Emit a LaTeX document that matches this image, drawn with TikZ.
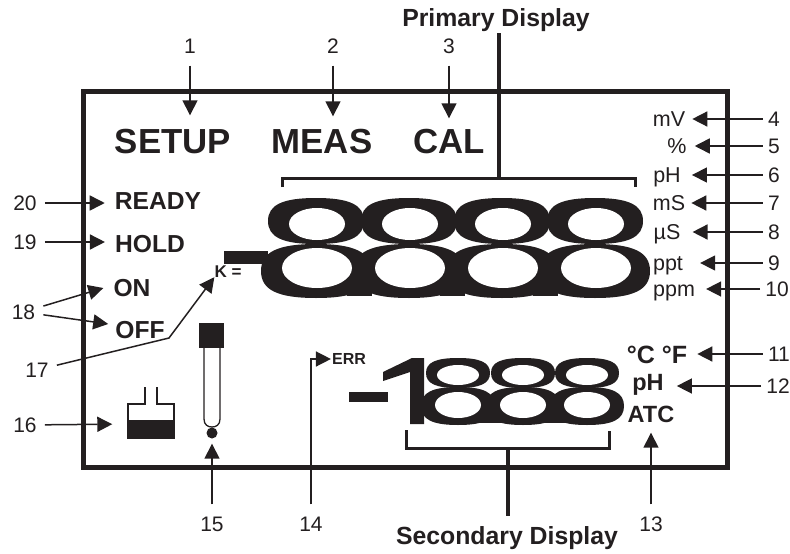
\documentclass[tikz,border=0pt]{standalone}
\usepackage{fontspec}
\setmainfont{Liberation Sans}
\usetikzlibrary{arrows.meta,calc}
\definecolor{inkBlack}{RGB}{35,31,32}
\newcommand{\lobefill}[4]{%
  \fill[inkBlack] (#1-#3,#2) .. controls +(0,-.7*#4) and +(-.7*#3,0) .. (#1,#2-#4)
    .. controls +(.7*#3,0) and +(0,-.7*#4) .. (#1+#3,#2)
    .. controls +(0,.7*#4) and +(.7*#3,0) .. (#1,#2+#4)
    .. controls +(-.7*#3,0) and +(0,.7*#4) .. (#1-#3,#2) -- cycle;}
\tikzset{
  txt/.style={inner sep=0pt, text=inkBlack, text depth=0pt},
  nr/.style={txt, font=\fontsize{21}{21}\selectfont, text height=15pt, inner xsep=5pt, inner ysep=12pt},
  nrleft/.style={nr, inner xsep=8pt, inner ysep=5pt},
  unitlab/.style={txt, font=\fontsize{21.5}{21.5}\selectfont, text height=15.4pt},
  modelab/.style={txt, font=\fontsize{24.6}{24.6}\bfseries\selectfont, text height=17.6pt, inner xsep=10pt},
  biglab/.style={txt, font=\fontsize{34.8}{34.8}\bfseries\selectfont, text height=25pt},
  sidelab/.style={txt, font=\fontsize{23.5}{23.5}\bfseries\selectfont, text height=17pt},
  headlab/.style={txt, font=\fontsize{24.8}{24.8}\bfseries\selectfont, text height=18pt},
  callout/.style={draw=inkBlack, line width=1.5pt, -{Triangle[length=15pt,width=15pt]}},
  bar/.style={draw=inkBlack, line width=4pt},
}
\begin{document}
\begin{tikzpicture}[x=1pt, y=-1pt]
  \useasboundingbox (0,0) rectangle (790,554);
  % display frame
  \draw[draw=inkBlack, line width=5pt] (83,91) rectangle (727,467);

  % primary digits
  \fill[inkBlack] (224,251) rectangle (268,264);
  \foreach \cx in {316,409,502,595} {
    \lobefill{\cx}{221}{48}{23}
    \lobefill{\cx}{271}{55}{27}
  }
  \foreach \cx in {347,440,533} {
    \fill[inkBlack] (\cx,280) rectangle +(25,16);
  }
  \foreach \cx in {317,410,503,596} {
    \fill[white] (\cx,224) ellipse [x radius=28, y radius=16];
    \fill[white] (\cx,268) ellipse [x radius=35, y radius=20];
  }

  % secondary digits
  \fill[inkBlack] (349,392) rectangle (388,402);
  \fill[inkBlack] (383,381) -- (383,372) -- (412,358) -- (424,358) -- (424,424) -- (410,424) -- (410,372) -- cycle;
  \foreach \cx in {458,523,587} {
    \lobefill{\cx}{373}{32}{15}
    \lobefill{\cx}{406}{37}{19}
  }
  \foreach \cx in {476,541} {
    \fill[inkBlack] (\cx,410) rectangle +(28,13);
  }
  \foreach \cx in {458,523,587} {
    \fill[white] (\cx,375) ellipse [x radius=21, y radius=10];
    \fill[white] (\cx,405) ellipse [x radius=23, y radius=13];
  }

  % brackets and their stems
  \node[headlab] (primary) at (496,17) {Primary Display};
  \node[headlab] (secondary) at (507,535) {Secondary Display};
  \coordinate (topjoin) at (499,178);
  \coordinate (topend) at (499,33);
  \coordinate (botjoin) at (508,448);
  \coordinate (botend) at (508,516);
  \draw[bar, line width=3pt] (282,187) -- (282,178) -- (635,178) -- (635,187);
  \draw[bar, line width=3pt] (406,430) -- (406,448) -- (609,448) -- (609,431);
  \draw[bar] (topend) -- (topjoin);
  \draw[bar] (botjoin) -- (botend);

  % labels on the display
  \node[biglab] (setup) at (173,141) {SETUP};
  \node[biglab] (meas) at (322,141) {MEAS};
  \node[biglab] (cal) at (449,141) {CAL};
  \node[modelab] (ready) at (158,201) {READY};
  \node[modelab] (hold) at (150,244) {HOLD};
  \node[modelab] (on) at (132,288) {ON};
  \node[modelab] (off) at (140,330) {OFF};
  \node[txt, font=\fontsize{17}{17}\bfseries\selectfont, text height=12pt] (kval) at (228,271) {K =};
  \node[txt, font=\fontsize{16}{16}\bfseries\selectfont, text height=11.5pt, inner xsep=1pt] (err) at (349,359) {ERR};
  \node[sidelab, font=\fontsize{25}{25}\bfseries\selectfont] (temp) at (657,355) {°C °F};
  \node[sidelab] (phb) at (648,382) {pH};
  \node[sidelab] (atc) at (651,414) {ATC};

  % bottle
  \fill[inkBlack] (128,420) rectangle (174,438);
  \draw[draw=inkBlack, line width=1.3pt] (145,387) -- (145,404) -- (128,404) -- (128,438) -- (174,438) -- (174,404) -- (157,404) -- (157,387);
  \node[inner sep=0pt, minimum size=1pt] (bottle) at (128,424) {};

  % probe
  \fill[inkBlack] (199,323) rectangle (224,348);
  \draw[draw=inkBlack, line width=1.3pt] (204,348) -- (204,419) .. controls (204,425) and (208,427) .. (212,427) .. controls (216,427) and (220,425) .. (220,419) -- (220,348);
  \fill[inkBlack] (212,433) circle (5.5);
  \node[inner sep=0pt, minimum size=1pt] (bulb) at (212,443) {};

  % numbered callouts, top
  \foreach \n/\tgt/\x/\gap in {1/setup/190/13, 2/meas/333/12, 3/cal/449/10} {
    \node[nr] (n\n) at (\x,46) {\n};
    \draw[callout, shorten >=\gap pt] (n\n) -- (n\n |- \tgt.north);
  }

  % numbered callouts, right
  \foreach \n/\tgt/\txt/\tx/\nx/\y/\gap in {4/mv/mV/669/774/119/7, 5/pc/\%/677/774/146/8, 6/ph/pH/667/774/175/11,
      7/ms/mS/669/774/203/6, 8/us/µS/667/774/232/12, 9/ppt/ppt/668/774/263/17, 10/ppm/ppm/674/777/289/11} {
    \node[unitlab] (\tgt) at (\tx,\y) {\txt};
    \node[nr] (n\n) at (\nx,\y) {\n};
    \draw[callout, shorten >=\gap pt] (n\n) -- (\tgt);
  }
  \node[nr] (n11) at (779,354) {11};
  \node[nr] (n12) at (778,386) {12};
  \draw[callout, shorten >=10pt] (n11) -- (temp.east |- n11);
  \draw[callout, shorten >=13pt] (n12) -- (phb.east |- n12);

  % numbered callouts, bottom
  \foreach \n/\x in {13/651, 14/311, 15/212} {
    \node[nr] (n\n) at (\x,524) {\n};
  }
  \draw[callout, shorten >=10pt] (n13) -- (n13 |- atc.south);
  \draw[callout] (n14.north) -- (n14.north |- err) -- (err);
  \draw[callout] (n15) -- (bulb);

  % numbered callouts, left
  \foreach \n/\x/\y in {16/25/425, 19/25/242, 20/25/203, 17/37/370, 18/23.5/312} {
    \node[nrleft] (n\n) at (\x,\y) {\n};
  }
  \draw[callout] (n20) -- (n20 -| ready.west);
  \draw[callout] (n19) -- (n19 -| hold.west);
  \draw[callout] (n18) -- (on.west);
  \draw[callout] (n18) -- ($(off.west)+(3,-6)$);
  \draw[callout] (n17) -- (169,338) -- (kval.south west);
  \draw[callout, shorten >=15pt] (n16) -- (bottle);
\end{tikzpicture}
\end{document}
